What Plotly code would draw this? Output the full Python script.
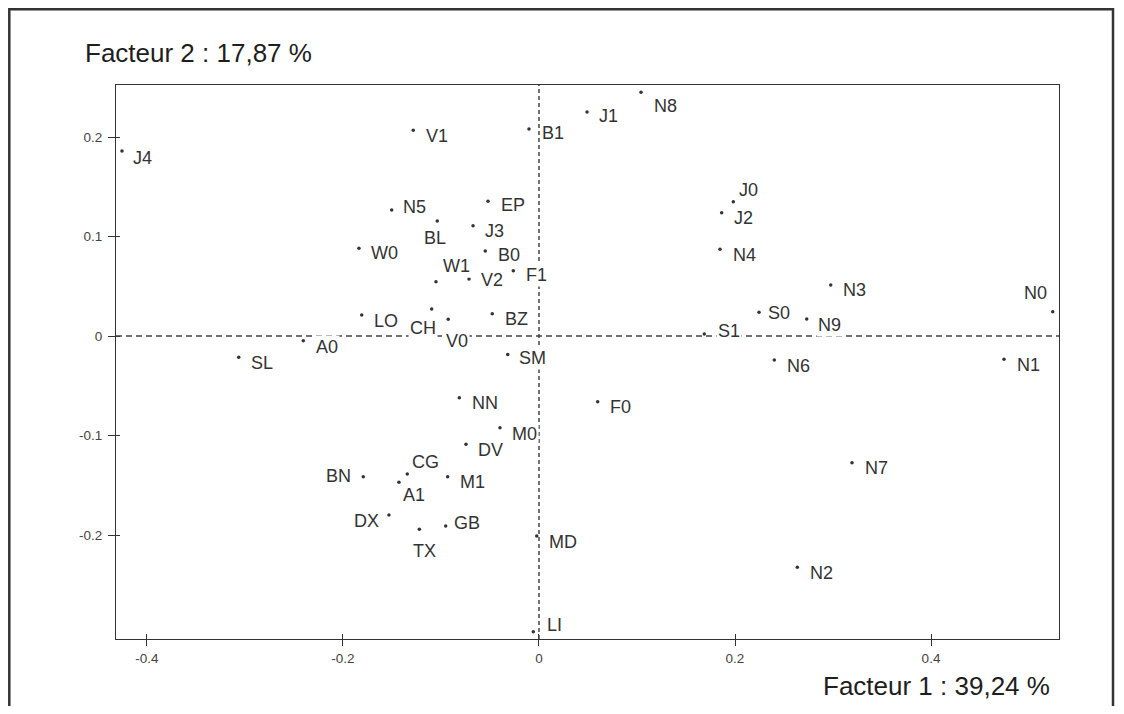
import plotly.graph_objects as go

# ---- data ----
labels = ["J4", "V1", "B1", "J1", "N8", "J0", "J2", "N4", "N5", "EP", "BL", "J3",
          "W0", "B0", "W1", "V2", "F1", "N3", "N0", "LO", "CH", "V0", "BZ", "S0",
          "S1", "N9", "A0", "SL", "SM", "N6", "N1", "NN", "F0", "M0", "DV", "BN",
          "CG", "M1", "A1", "N7", "DX", "GB", "TX", "MD", "N2", "LI"]
factor1 = [-0.4255, -0.1283, -0.0102, 0.0490, 0.1041, 0.1983, 0.1864, 0.1847,
           -0.1503, -0.0520, -0.1038, -0.0673, -0.1837, -0.0548, -0.1051, -0.0714,
           -0.0262, 0.2977, 0.5242, -0.1809, -0.1095, -0.0926, -0.0477, 0.2245,
           0.1687, 0.2732, -0.2405, -0.3064, -0.0319, 0.2401, 0.4745, -0.0813,
           0.0599, -0.0398, -0.0745, -0.1793, -0.1344, -0.0932, -0.1429, 0.3194,
           -0.1531, -0.0952, -0.1221, -0.0023, 0.2636, -0.0058]
factor2 = [0.1859, 0.2067, 0.2080, 0.2251, 0.2449, 0.1350, 0.1239, 0.0871,
           0.1266, 0.1354, 0.1156, 0.1109, 0.0881, 0.0854, 0.0546, 0.0573,
           0.0656, 0.0513, 0.0244, 0.0211, 0.0271, 0.0168, 0.0224, 0.0238,
           0.0020, 0.0171, -0.0047, -0.0214, -0.0186, -0.0241, -0.0234, -0.0620,
           -0.0660, -0.0922, -0.1088, -0.1414, -0.1387, -0.1414, -0.1470, -0.1273,
           -0.1799, -0.1910, -0.1943, -0.2010, -0.2325, -0.2972]
x_ticks = [-0.4, -0.2, 0, 0.2, 0.4]
x_tick_text = ["-0.4", "-0.2", "0", "0.2", "0.4"]
y_ticks = [-0.2, -0.1, 0, 0.1, 0.2]
y_tick_text = ["-0.2", "-0.1", "0", "0.1", "0.2"]
title_y = "Facteur 2 : 17,87 %"
title_x = "Facteur 1 : 39,24 %"

# ---- layout / style ----
# the page body has an 8px margin, so the figure is a bit smaller than the window
OFF = 8
W, H = 1116, 698
ML, MR, MT, MB = 108, 65, 77, 67
PW, PH = W - ML - MR, H - MT - MB
SCR_LEFT, SCR_BOTTOM = ML + OFF, H - MB + OFF
X_RANGE = [-0.4316, 0.5306]
Y_RANGE = [-0.3045, 0.2523]
INK = "#333333"
LABEL_FONT = dict(family="Liberation Sans, Arial, sans-serif", size=18, color="#333333")


def px_x(p):
    return (p - SCR_LEFT) / PW


def px_y(p):
    return (SCR_BOTTOM - p) / PH


# label placement: (anchor, dx px, dy px downward)
DEFAULT_PLACE = ("left", 12, 5)
PLACE = {
    "N8": ("left", 12, 13.5), "J1": ("left", 11, 3), "B1": ("left", 13, 3),
    "N5": ("left", 11, -3.5), "EP": ("left", 12, 3), "BL": ("center", -2, 16.5),
    "J3": ("left", 11, 5), "W0": ("left", 12, 4), "B0": ("left", 12, 3.5),
    "W1": ("left", 7, -16), "V2": ("left", 11, 0.5), "F1": ("left", 12, 4),
    "CH": ("right", 5, 18), "V0": ("left", -3, 20.7), "J0": ("left", 5, -12),
    "N0": ("right", -5.7, -19.7), "S0": ("left", 8, 0), "S1": ("left", 12.7, -4),
    "N9": ("left", 11, 5.5), "SM": ("left", 11, 3), "BN": ("right", -12, -1),
    "DX": ("right", -9, 5.5), "CG": ("left", 4, -13), "A1": ("left", 4, 12),
    "TX": ("center", 5, 21), "GB": ("left", 8, -3.5), "LI": ("left", 13.5, -7),
    "M0": ("left", 12, 6), "A0": ("left", 12, 6), "J4": ("left", 11, 6),
}

fig = go.Figure()
fig.add_trace(go.Scatter(
    x=factor1, y=factor2, mode="markers", text=labels,
    marker=dict(size=3.5, color=INK), showlegend=False, hoverinfo="text"))
# helper trace for the inner half of the crossing tick marks
fig.add_trace(go.Scatter(x=[None], y=[None], xaxis="x2", yaxis="y2",
                         showlegend=False, hoverinfo="skip"))

annotations = []
for name, xv, yv in zip(labels, factor1, factor2):
    anchor, dx, dy = PLACE.get(name, DEFAULT_PLACE)
    corr = {"left": -1.5, "right": 1.5, "center": 0}[anchor]
    annotations.append(dict(
        x=xv, y=yv, xref="x", yref="y", text=name, showarrow=False,
        xanchor=anchor, yanchor="middle", xshift=dx + corr, yshift=-(dy + 0.5),
        font=LABEL_FONT, bgcolor="white", borderpad=1))

TITLE_FONT = dict(family="Liberation Sans, Arial, sans-serif", size=26, color="#1e1e1e")
annotations.append(dict(x=px_x(83), y=px_y(53), xref="paper", yref="paper",
                        text=title_y, showarrow=False, xanchor="left",
                        yanchor="middle", font=TITLE_FONT))
annotations.append(dict(x=px_x(1052), y=px_y(686), xref="paper", yref="paper",
                        text=title_x, showarrow=False, xanchor="right",
                        yanchor="middle", font=TITLE_FONT))

shapes = [
    dict(type="line", xref="x", yref="paper", x0=0, x1=0, y0=0, y1=1,
         line=dict(color="#444444", width=1.5, dash="4px,3px"), layer="above"),
    dict(type="line", xref="paper", yref="y", x0=0, x1=1, y0=0, y1=0,
         line=dict(color="#444444", width=1.5, dash="6px,4px"), layer="above"),
    dict(type="rect", xref="paper", yref="paper",
         x0=px_x(9.3), x1=px_x(1113), y0=px_y(9.3), y1=px_y(740),
         line=dict(color="#333333", width=2.5), layer="above"),
]

tick_font = dict(family="Liberation Sans, Arial, sans-serif", size=13.5, color="#444444")
common = dict(showgrid=False, zeroline=False, fixedrange=True)

fig.update_layout(
    width=W, height=H,
    margin=dict(l=ML, r=MR, t=MT, b=MB, pad=0),
    paper_bgcolor="white", plot_bgcolor="white",
    xaxis=dict(range=X_RANGE, tickvals=x_ticks, ticktext=x_tick_text,
               ticks="outside", ticklen=6, tickwidth=1, tickcolor=INK,
               showline=True, mirror=True, linecolor=INK, linewidth=1,
               tickfont=tick_font, ticklabelstandoff=1, **common),
    yaxis=dict(range=Y_RANGE, tickvals=y_ticks, ticktext=y_tick_text,
               ticks="outside", ticklen=7, tickwidth=1, tickcolor=INK,
               showline=True, mirror=True, linecolor=INK, linewidth=1,
               tickfont=tick_font, ticklabelstandoff=3, **common),
    xaxis2=dict(range=X_RANGE, tickvals=x_ticks, ticks="inside", ticklen=5,
                tickwidth=1, tickcolor=INK, showticklabels=False,
                overlaying="x", anchor="y2", side="bottom", showline=False, **common),
    yaxis2=dict(range=Y_RANGE, tickvals=y_ticks, ticks="inside", ticklen=4,
                tickwidth=1, tickcolor=INK, showticklabels=False,
                overlaying="y", anchor="x2", side="left", showline=False, **common),
    annotations=annotations, shapes=shapes,
)

fig.write_html("out.html")
